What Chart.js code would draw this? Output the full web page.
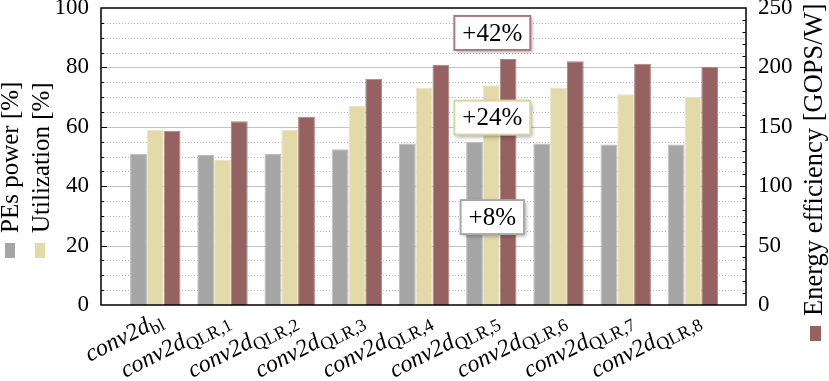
<!DOCTYPE html>
<html lang="en">
<head>
    <meta charset="UTF-8">
    <title>conv2d energy efficiency</title>
    <script src="https://cdn.jsdelivr.net/npm/chart.js"></script>
    <style>
        body {
            margin: 0;
            background-color: white;
        }
        .chart-container {
            position: relative;
            width: 829px;
            height: 381px;
        }
    </style>
</head>
<body>
    <div class="chart-container">
        <canvas id="effChart"></canvas>
    </div>

    <script>
        // data
        const labelMain = 'conv2d';
        const labelSubs = ['bl', 'QLR,1', 'QLR,2', 'QLR,3', 'QLR,4', 'QLR,5', 'QLR,6', 'QLR,7', 'QLR,8'];
        const pePower = [50.8, 50.5, 50.8, 52.4, 54.4, 55.0, 54.4, 54.0, 54.0];
        const utilization = [58.9, 48.8, 58.9, 67.0, 73.1, 74.0, 73.1, 71.0, 70.0];
        const efficiency = [146.7, 154.6, 158.5, 190.5, 202.3, 207.0, 205.1, 203.1, 200.6];
        const leftTicks = [0, 20, 40, 60, 80, 100];
        const rightTicks = [0, 50, 100, 150, 200, 250];

        const notes = ['+42%', '+24%', '+8%'];
        const noteY = [91.6, 63.1, 29.6];
        const noteAt = 5;

        const GRAY = '#a6a6a6';
        const BEIGE = '#e2daa9';
        const RED = '#966161';
        const SERIF = '"Liberation Serif", "Times New Roman", Tinos, Times, serif';

        const toPoints = arr => arr.map((v, i) => ({ x: i, y: v }));

        const drawExtras = {
            id: 'drawExtras',
            beforeDatasetsDraw(chart) {
                const ctx = chart.ctx;
                const a = chart.chartArea;
                const y = chart.scales.y;
                ctx.save();
                // dotted minor grid every 5, solid major every 20
                for (let v = 5; v < 100; v += 5) {
                    const py = Math.round(y.getPixelForValue(v)) + 0.5;
                    ctx.beginPath();
                    if (v % 20 === 0) {
                        ctx.setLineDash([]);
                        ctx.strokeStyle = '#c2c2c2';
                        ctx.lineWidth = 1.2;
                    } else {
                        ctx.setLineDash([1, 2]);
                        ctx.strokeStyle = '#b8b8b8';
                        ctx.lineWidth = 1;
                    }
                    ctx.moveTo(a.left, py);
                    ctx.lineTo(a.right, py);
                    ctx.stroke();
                }
                ctx.restore();
            },
            afterDatasetsDraw(chart) {
                const ctx = chart.ctx;
                const a = chart.chartArea;
                const x = chart.scales.x;
                const y = chart.scales.y;
                const y1 = chart.scales.y1;
                ctx.save();
                ctx.strokeStyle = '#000';
                ctx.lineWidth = 1;
                // left ticks
                for (let v = 5; v < 100; v += 5) {
                    const py = Math.round(y.getPixelForValue(v)) + 0.5;
                    const len = v % 20 === 0 ? 6 : 3;
                    ctx.beginPath();
                    ctx.moveTo(a.left, py);
                    ctx.lineTo(a.left + len, py);
                    ctx.stroke();
                }
                // right ticks
                for (let v = 10; v < 250; v += 10) {
                    const py = Math.round(y1.getPixelForValue(v)) + 0.5;
                    const len = v % 50 === 0 ? 6 : 3.5;
                    ctx.beginPath();
                    ctx.moveTo(a.right, py);
                    ctx.lineTo(a.right - len, py);
                    ctx.stroke();
                }
                // frame
                ctx.lineWidth = 1.5;
                ctx.strokeRect(a.left, a.top, a.right - a.left, a.bottom - a.top);

                // annotation boxes
                const borders = ['#a97b7b', '#ddd3a0', '#a8a8a8'];
                ctx.font = '25px ' + SERIF;
                ctx.textAlign = 'center';
                ctx.textBaseline = 'middle';
                notes.forEach((t, i) => {
                    const cx = x.getPixelForValue(noteAt) + 1;
                    const cy = y.getPixelForValue(noteY[i]);
                    const w = ctx.measureText(t).width + 16;
                    const h = 34;
                    ctx.save();
                    ctx.shadowColor = 'rgba(0,0,0,0.35)';
                    ctx.shadowBlur = 4;
                    ctx.shadowOffsetX = 2;
                    ctx.shadowOffsetY = 2;
                    ctx.fillStyle = '#fff';
                    ctx.fillRect(cx - w / 2, cy - h / 2, w, h);
                    ctx.restore();
                    ctx.strokeStyle = borders[i];
                    ctx.lineWidth = 2;
                    ctx.strokeRect(cx - w / 2, cy - h / 2, w, h);
                    ctx.fillStyle = '#000';
                    ctx.fillText(t, cx, cy + 1);
                });
                ctx.restore();
            },
            afterDraw(chart) {
                const ctx = chart.ctx;
                const a = chart.chartArea;
                const x = chart.scales.x;
                ctx.save();
                ctx.fillStyle = '#000';
                // rotated x labels with subscripts
                labelSubs.forEach((sub, i) => {
                    const cx = x.getPixelForValue(i);
                    ctx.save();
                    ctx.translate(cx + 1, a.bottom + 4);
                    ctx.rotate(-27 * Math.PI / 180);
                    ctx.textBaseline = 'alphabetic';
                    ctx.textAlign = 'left';
                    ctx.font = 'italic 24px ' + SERIF;
                    const wm = ctx.measureText(labelMain).width;
                    ctx.font = '18px ' + SERIF;
                    const ws = ctx.measureText(sub).width;
                    ctx.font = 'italic 24px ' + SERIF;
                    ctx.fillText(labelMain, -(wm + ws), 17);
                    ctx.font = '18px ' + SERIF;
                    ctx.fillText(sub, -ws, 22);
                    ctx.restore();
                });

                // legends, rotated
                ctx.textBaseline = 'middle';
                ctx.textAlign = 'left';
                const legendText = (txt, px, py, size) => {
                    ctx.save();
                    ctx.font = size + 'px ' + SERIF;
                    ctx.translate(px, py);
                    ctx.rotate(-Math.PI / 2);
                    ctx.fillText(txt, 0, 0);
                    ctx.restore();
                };
                legendText('PEs power [%]', 11, 233, 25);
                legendText('Utilization [%]', 42, 233, 25);
                legendText('Energy efficiency [GOPS/W]', 815, 316, 26.5);
                ctx.fillStyle = GRAY;
                ctx.fillRect(5, 243, 10, 15);
                ctx.fillStyle = BEIGE;
                ctx.fillRect(35, 243, 10, 15);
                ctx.fillStyle = RED;
                ctx.fillRect(810, 326, 11, 15);
                ctx.restore();
            }
        };

        const tickFont = { family: SERIF, size: 23 };

        new Chart(document.getElementById('effChart'), {
            type: 'bar',
            data: {
                datasets: [
                    {
                        label: 'PEs power [%]',
                        data: toPoints(pePower),
                        backgroundColor: GRAY,
                        borderColor: '#bdbdbd',
                        borderWidth: 1,
                        yAxisID: 'y'
                    },
                    {
                        label: 'Utilization [%]',
                        data: toPoints(utilization),
                        backgroundColor: BEIGE,
                        borderColor: '#ebe5c6',
                        borderWidth: 1,
                        yAxisID: 'y'
                    },
                    {
                        label: 'Energy efficiency [GOPS/W]',
                        data: toPoints(efficiency),
                        backgroundColor: RED,
                        borderColor: '#ad8383',
                        borderWidth: 1,
                        yAxisID: 'y1'
                    }
                ]
            },
            options: {
                responsive: true,
                maintainAspectRatio: false,
                animation: false,
                layout: { padding: { top: 8, bottom: 76, left: 0, right: 0 } },
                plugins: {
                    legend: { display: false },
                    tooltip: { enabled: false }
                },
                datasets: {
                    bar: { categoryPercentage: 0.75, barPercentage: 1.0 }
                },
                scales: {
                    x: {
                        type: 'linear',
                        min: -0.808,
                        max: 8.79,
                        offset: false,
                        display: false,
                        afterBuildTicks: s => { s.ticks = labelSubs.map((_, i) => ({ value: i })); }
                    },
                    y: {
                        position: 'left',
                        min: 0,
                        max: 100,
                        afterBuildTicks: s => { s.ticks = leftTicks.map(v => ({ value: v })); },
                        ticks: { font: tickFont, color: '#000', padding: 12 },
                        grid: { display: false, drawTicks: false },
                        border: { display: false },
                        afterFit: s => { s.width = 101; s.paddingTop = 0; s.paddingBottom = 0; }
                    },
                    y1: {
                        position: 'right',
                        min: 0,
                        max: 250,
                        afterBuildTicks: s => { s.ticks = rightTicks.map(v => ({ value: v })); },
                        ticks: { font: tickFont, color: '#000', padding: 12 },
                        grid: { display: false, drawTicks: false },
                        border: { display: false },
                        afterFit: s => { s.width = 83; s.paddingTop = 0; s.paddingBottom = 0; }
                    }
                }
            },
            plugins: [drawExtras]
        });
    </script>
</body>
</html>
